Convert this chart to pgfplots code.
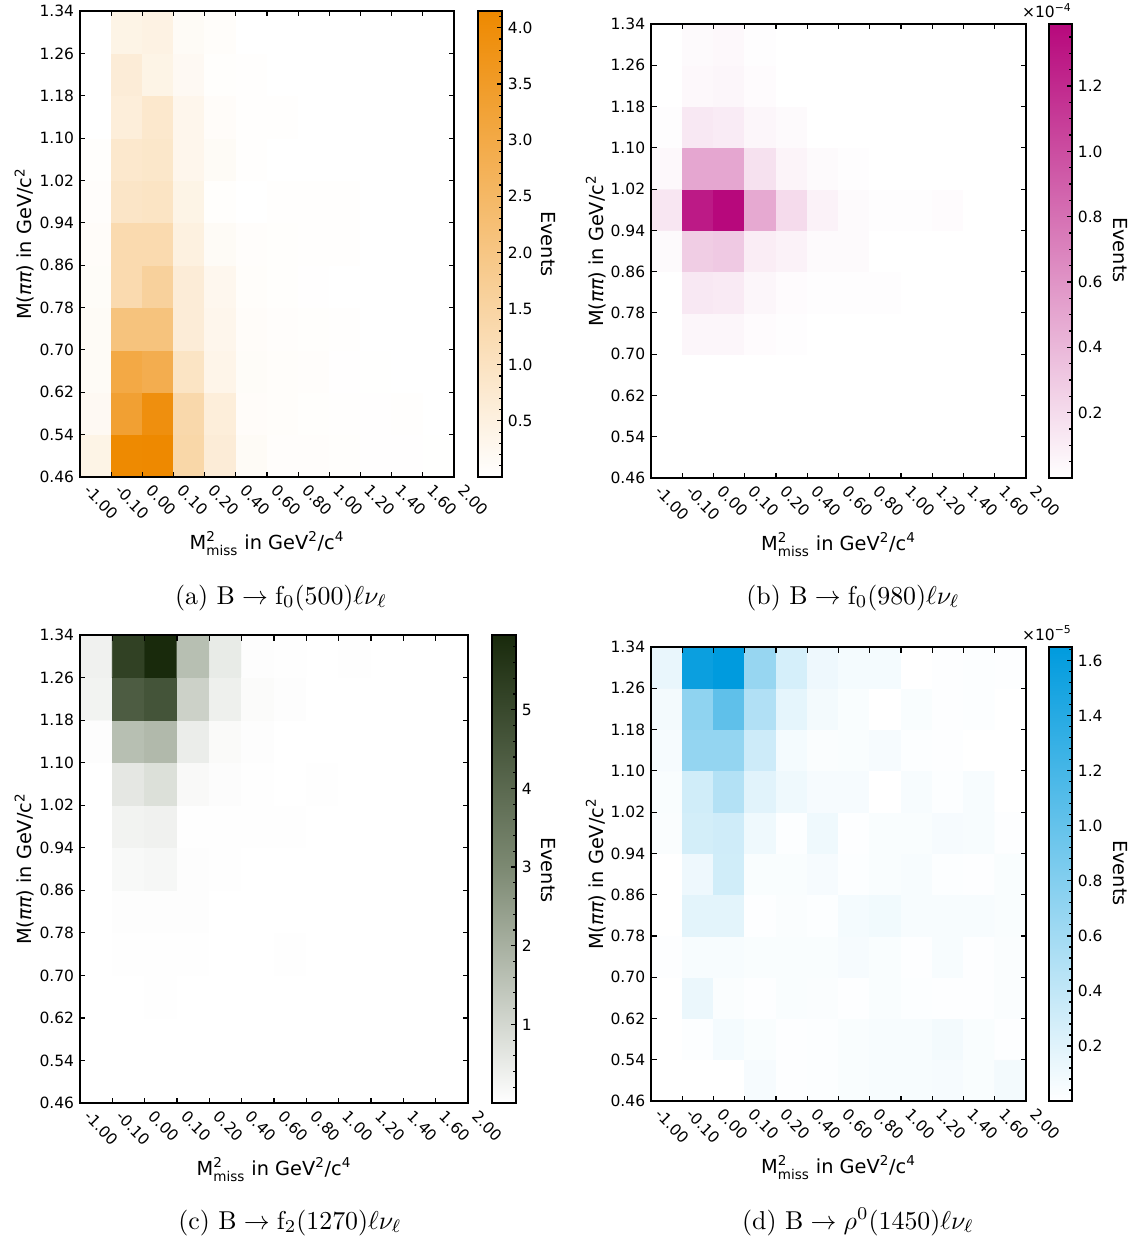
\documentclass[border=0pt]{standalone}
\usepackage{amsmath}
\usepackage{fontspec}
\usepackage{pgfplots}
\pgfplotsset{compat=1.18}
\newfontfamily\dejavu{DejaVu Sans}
\newcommand\tickfont{\dejavu\fontsize{9.3}{11}\selectfont}
\newcommand\labfont{\dejavu\fontsize{11.6}{13.5}\selectfont}

\pgfplotsset{
  every axis/.append style={
    axis line style={line width=0.7pt},
    tick style={line width=0.7pt, black},
    major tick length=3.3pt,
    minor tick length=1.9pt,
    tick align=inside,
  },
  every tick label/.append style={font=\tickfont},
  colorbar shift/.style={},
  hm/.style={
    scale only axis,
    xmin=0, xmax=12, ymin=0, ymax=11,
    axis on top,
    xtick={0,1,2,3,4,5,6,7,8,9,10,11,12},
    xticklabels={-1.00,-0.10,0.00,0.10,0.20,0.40,0.60,0.80,1.00,1.20,1.40,1.60,2.00},
    ytick={0,1,2,3,4,5,6,7,8,9,10,11},
    yticklabels={0.46,0.54,0.62,0.70,0.78,0.86,0.94,1.02,1.10,1.18,1.26,1.34},
    tick pos=both,
    xticklabel pos=left, yticklabel pos=left,
    x tick label style={xshift=1.8pt, yshift=-8.7pt, rotate=-45, anchor=base west, inner sep=0pt},
    every axis x label/.style={at={(axis description cs:0.5,0)}, yshift=-43.2pt, anchor=base, font=\labfont},
    every axis y label/.style={at={(axis description cs:0,0.5)}, xshift=-28.8pt, rotate=90, anchor=base, font=\labfont},
    xlabel={M$^{\text{2}}_{\text{miss}}$ in GeV$^{\text{2}}$/c$^{\text{4}}$},
    ylabel={M({\itshape ππ}) in GeV/c$^{\text{2}}$},
    colorbar,
    colorbar style={
      at={(parent axis.north east)}, anchor=north west,
      scale only axis,
      ytick pos=right, yticklabel pos=right,
      tick align=inside,
      axis line style={line width=0.7pt},
    },
  },
}

\begin{document}
\begin{tikzpicture}
\useasboundingbox (0,0) rectangle (682.2pt,-745.8pt);

% ---------------- (a) ----------------
\begin{axis}[hm,
  at={(48pt,-6.6pt)}, anchor=north west,
  width=224.4pt, height=279.6pt,
  colormap={orng}{rgb255=(255,255,255) rgb255=(238,137,0)},
  point meta min=0, point meta max=4.15,
  colorbar style={xshift=14.4pt, width=14.4pt, height=279.6pt,
    ytick={0.5,1.0,1.5,2.0,2.5,3.0,3.5,4.0},
    yticklabels={0.5,1.0,1.5,2.0,2.5,3.0,3.5,4.0},
    minor ytick={0.1,0.2,...,4.1}},
]
\addplot[matrix plot*, mesh/cols=12, point meta=explicit]
  table[row sep=\\, x expr={mod(\coordindex,12)+0.5}, y expr={floor(\coordindex/12)+0.5}, meta=c] {
c\\
0.40\\4.10\\4.15\\1.40\\0.65\\0.15\\0.07\\0.06\\0.05\\0.02\\0.02\\0.01\\
0.20\\3.30\\3.90\\1.35\\0.60\\0.10\\0.08\\0.05\\0.03\\0.02\\0.04\\0\\
0.15\\3.00\\2.85\\0.95\\0.35\\0.12\\0.08\\0.06\\0.02\\0.01\\0\\0\\
0.15\\2.10\\2.10\\0.65\\0.30\\0.10\\0.06\\0.05\\0.03\\0\\0\\0\\
0.12\\1.30\\1.60\\0.65\\0.28\\0.08\\0.05\\0.02\\0\\0\\0\\0\\
0.10\\1.30\\1.30\\0.50\\0.15\\0.06\\0.05\\0.03\\0.04\\0\\0\\0\\
0.07\\0.90\\0.95\\0.40\\0.05\\0\\0.04\\0.03\\0.03\\0\\0\\0\\
0.05\\0.80\\0.85\\0.30\\0.15\\0.03\\0\\0\\0\\0\\0\\0\\
0\\0.60\\0.80\\0.30\\0.10\\0.04\\0.04\\0\\0\\0\\0\\0\\
0\\0.65\\0.40\\0.20\\0.05\\0.03\\0\\0\\0\\0\\0\\0\\
0\\0.40\\0.45\\0.15\\0.08\\0\\0\\0\\0\\0\\0\\0\\
};
\end{axis}

% ---------------- (b) ----------------
\begin{axis}[hm,
  at={(390.6pt,-14.4pt)}, anchor=north west,
  width=225pt, height=272.4pt,
  colormap={mgnt}{rgb255=(255,255,255) rgb255=(183,8,124)},
  point meta min=0, point meta max=1.39,
  colorbar style={xshift=13.8pt, width=13.8pt, height=272.4pt,
    ytick={0.2,0.4,0.6,0.8,1.0,1.2},
    yticklabels={0.2,0.4,0.6,0.8,1.0,1.2},
    minor ytick={0.05,0.10,...,1.36}},
]
\addplot[matrix plot*, mesh/cols=12, point meta=explicit]
  table[row sep=\\, x expr={mod(\coordindex,12)+0.5}, y expr={floor(\coordindex/12)+0.5}, meta=c] {
c\\
0\\0\\0\\0\\0\\0\\0\\0\\0\\0\\0\\0\\
0\\0\\0\\0\\0\\0\\0\\0\\0\\0\\0\\0\\
0\\0\\0\\0\\0\\0\\0\\0\\0\\0\\0\\0\\
0\\0.05\\0.05\\0.02\\0.01\\0\\0\\0\\0\\0\\0\\0\\
0\\0.13\\0.12\\0.05\\0.02\\0.01\\0.01\\0.01\\0\\0\\0\\0\\
0.03\\0.28\\0.30\\0.10\\0.07\\0.03\\0.03\\0\\0\\0\\0\\0\\
0.14\\1.28\\1.38\\0.48\\0.20\\0.07\\0.03\\0.01\\0.01\\0.02\\0\\0\\
0.04\\0.50\\0.50\\0.17\\0.06\\0.03\\0.01\\0\\0\\0\\0\\0\\
0.01\\0.13\\0.11\\0.05\\0.03\\0\\0\\0\\0\\0\\0\\0\\
0\\0.04\\0.05\\0.02\\0\\0\\0\\0\\0\\0\\0\\0\\
0\\0.03\\0.04\\0.01\\0\\0\\0\\0\\0\\0\\0\\0\\
};
\end{axis}

% ---------------- (c) ----------------
\begin{axis}[hm,
  at={(48pt,-381pt)}, anchor=north west,
  width=232.8pt, height=280.8pt,
  colormap={grn}{rgb255(0cm)=(255,255,255) rgb255(1cm)=(125,138,115) rgb255(2cm)=(25,42,12)},
  point meta min=0, point meta max=5.95,
  colorbar style={xshift=14.4pt, width=14.4pt, height=280.8pt,
    ytick={1,2,3,4,5},
    yticklabels={1,2,3,4,5},
    minor ytick={0.2,0.4,...,5.9}},
]
\addplot[matrix plot*, mesh/cols=12, point meta=explicit]
  table[row sep=\\, x expr={mod(\coordindex,12)+0.5}, y expr={floor(\coordindex/12)+0.5}, meta=c] {
c\\
0\\0\\0\\0\\0.01\\0\\0\\0\\0\\0\\0\\0\\
0\\0\\0\\0\\0.01\\0\\0\\0\\0\\0\\0\\0\\
0\\0\\0.02\\0\\0.01\\0\\0\\0\\0\\0\\0\\0\\
0\\0.02\\0.03\\0.02\\0\\0\\0.02\\0\\0\\0\\0\\0\\
0\\0.05\\0.05\\0.05\\0\\0\\0\\0\\0\\0\\0\\0\\
0\\0.15\\0.20\\0.05\\0.03\\0\\0\\0\\0\\0\\0\\0\\
0\\0.30\\0.35\\0.03\\0.03\\0.02\\0.02\\0\\0\\0\\0\\0\\
0\\0.60\\0.80\\0.14\\0.07\\0.03\\0\\0.02\\0\\0\\0\\0\\
0.05\\1.64\\1.79\\0.45\\0.12\\0.05\\0\\0\\0\\0\\0\\0\\
0.30\\4.40\\4.66\\1.17\\0.38\\0.10\\0.04\\0\\0\\0\\0\\0\\
0.35\\5.25\\5.95\\1.64\\0.52\\0.05\\0.03\\0\\0.02\\0\\0\\0\\
};
\end{axis}

% ---------------- (d) ----------------
\begin{axis}[hm,
  at={(390.6pt,-388.2pt)}, anchor=north west,
  width=225pt, height=272.4pt,
  colormap={blu}{rgb255=(255,255,255) rgb255=(0,155,222)},
  point meta min=0, point meta max=1.65,
  colorbar style={xshift=13.8pt, width=13.8pt, height=272.4pt,
    ytick={0.2,0.4,0.6,0.8,1.0,1.2,1.4,1.6},
    yticklabels={0.2,0.4,0.6,0.8,1.0,1.2,1.4,1.6},
    minor ytick={0.04,0.08,...,1.65}},
]
\addplot[matrix plot*, mesh/cols=12, point meta=explicit]
  table[row sep=\\, x expr={mod(\coordindex,12)+0.5}, y expr={floor(\coordindex/12)+0.5}, meta=c] {
c\\
0\\0\\0\\0.06\\0.01\\0.02\\0.04\\0.05\\0.05\\0.06\\0.04\\0.08\\
0\\0.02\\0.07\\0.04\\0.01\\0.02\\0.04\\0.05\\0.05\\0.08\\0.04\\0.01\\
0\\0.13\\0.03\\0.01\\0.04\\0.03\\0.01\\0.04\\0.02\\0.01\\0.01\\0.03\\
0.01\\0.05\\0.05\\0.04\\0.04\\0.04\\0.06\\0.04\\0.01\\0.05\\0.01\\0.03\\
0\\0.18\\0.18\\0.01\\0.03\\0.02\\0.07\\0.09\\0.05\\0.05\\0.05\\0.04\\
0\\0.11\\0.30\\0.04\\0.04\\0.06\\0.02\\0.04\\0.05\\0.02\\0.01\\0.04\\
0.03\\0.28\\0.31\\0.10\\0.02\\0.10\\0.01\\0.04\\0.04\\0.06\\0.05\\0.01\\
0.04\\0.30\\0.49\\0.19\\0.10\\0.06\\0.06\\0\\0.05\\0.02\\0.05\\0\\
0.06\\0.69\\0.69\\0.32\\0.07\\0.03\\0.04\\0.06\\0.02\\0.01\\0\\0\\
0.08\\0.72\\1.03\\0.50\\0.17\\0.08\\0.04\\0\\0.04\\0.01\\0.02\\0\\
0.14\\1.57\\1.65\\0.67\\0.27\\0.11\\0.07\\0.07\\0\\0.01\\0.02\\0.01\\
};
\end{axis}

% colorbar titles and scale factors
\node[rotate=-90, font=\labfont] at (328.8pt,-146.4pt) {Events};
\node[rotate=-90, font=\labfont] at (672pt,-150pt) {Events};
\node[rotate=-90, font=\labfont] at (328.8pt,-522pt) {Events};
\node[rotate=-90, font=\labfont] at (672pt,-523.8pt) {Events};
\node[anchor=base east, font=\tickfont, inner sep=0pt] at (643.2pt,-10.8pt) {×10\textsuperscript{−4}};
\node[anchor=base east, font=\tickfont, inner sep=0pt] at (643.2pt,-384pt) {×10\textsuperscript{−5}};

% captions
\node[anchor=base, scale=1.55, transform shape] at (168.6pt,-362.4pt) {(a) $\mathrm{B}\rightarrow\mathrm{f}_0(500)\ell\nu_\ell$};
\node[anchor=base, scale=1.55, transform shape] at (511.8pt,-362.4pt) {(b) $\mathrm{B}\rightarrow\mathrm{f}_0(980)\ell\nu_\ell$};
\node[anchor=base, scale=1.55, transform shape] at (174pt,-737.4pt) {(c) $\mathrm{B}\rightarrow\mathrm{f}_2(1270)\ell\nu_\ell$};
\node[anchor=base, scale=1.55, transform shape] at (514.8pt,-737.4pt) {(d) $\mathrm{B}\rightarrow\rho^0(1450)\ell\nu_\ell$};
\end{tikzpicture}
\end{document}
